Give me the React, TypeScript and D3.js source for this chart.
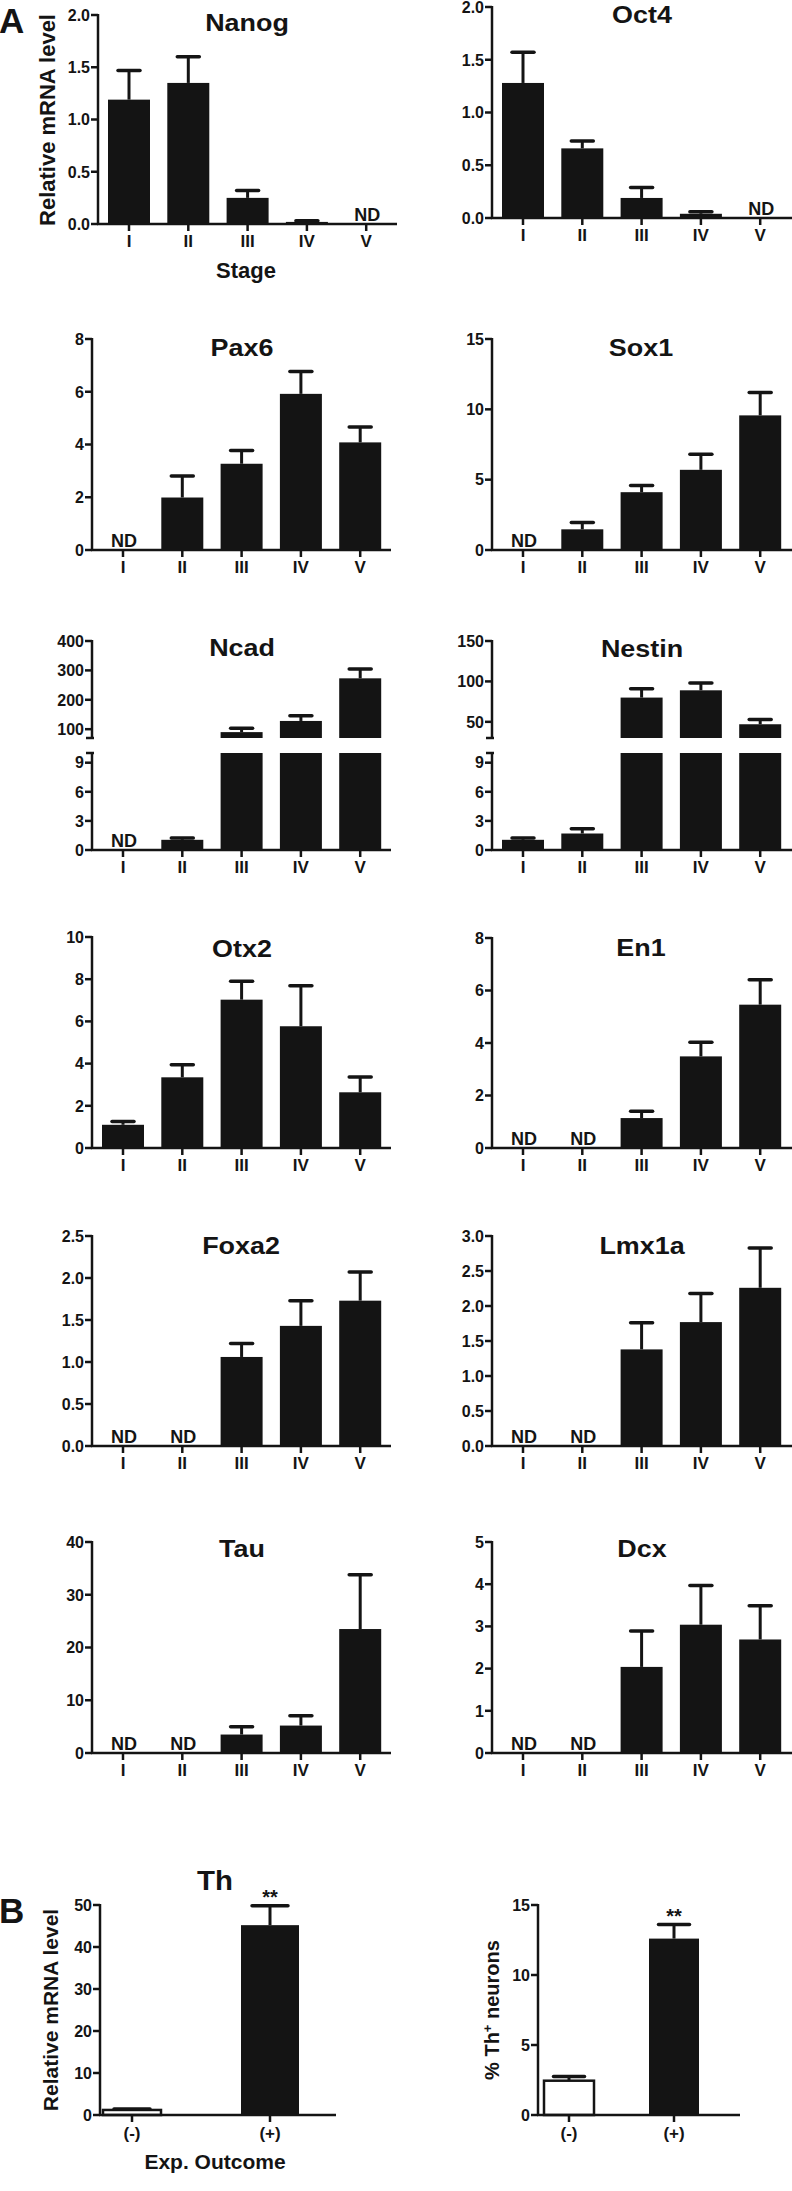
import React from 'react';
import * as d3 from 'd3';

// ---------- DATA ----------
const stages = ['I', 'II', 'III', 'IV', 'V'];

// Panel A: mean and SEM per stage (null = ND, not detected)
const nanogMean = [1.19, 1.35, 0.25, 0.02, null];
const nanogSem = [0.28, 0.25, 0.07, 0.01, null];
const oct4Mean = [1.28, 0.66, 0.19, 0.04, null];
const oct4Sem = [0.29, 0.07, 0.1, 0.02, null];
const pax6Mean = [null, 1.99, 3.27, 5.92, 4.08];
const pax6Sem = [null, 0.82, 0.5, 0.85, 0.58];
const sox1Mean = [null, 1.47, 4.11, 5.7, 9.57];
const sox1Sem = [null, 0.48, 0.47, 1.11, 1.63];
const ncadMean = [null, 1.05, 90, 128, 273];
const ncadSem = [null, 0.2, 13, 18, 32];
const nestinMean = [1.05, 1.7, 80, 89, 47];
const nestinSem = [0.2, 0.5, 11, 9, 6];
const otx2Mean = [1.1, 3.35, 7.03, 5.77, 2.64];
const otx2Sem = [0.16, 0.6, 0.87, 1.92, 0.72];
const en1Mean = [null, null, 1.14, 3.49, 5.46];
const en1Sem = [null, null, 0.26, 0.54, 0.95];
const foxa2Mean = [null, null, 1.06, 1.43, 1.73];
const foxa2Sem = [null, null, 0.16, 0.3, 0.34];
const lmx1aMean = [null, null, 1.38, 1.77, 2.26];
const lmx1aSem = [null, null, 0.38, 0.41, 0.57];
const tauMean = [null, null, 3.5, 5.2, 23.5];
const tauSem = [null, null, 1.5, 1.85, 10.3];
const dcxMean = [null, null, 2.04, 3.04, 2.69];
const dcxSem = [null, null, 0.85, 0.93, 0.8];

// Panel B
const outcomes = ['(-)', '(+)'];
const thMean = [1.2, 45.2];
const thSem = [0.2, 4.6];
const thNeuronMean = [2.45, 12.6];
const thNeuronSem = [0.3, 1.0];
const sigMarks = ['', '**'];

// Tick values
const ticksNanog = [0, 0.5, 1.0, 1.5, 2.0];
const ticksOct4 = [0, 0.5, 1.0, 1.5, 2.0];
const ticksPax6 = [0, 2, 4, 6, 8];
const ticksSox1 = [0, 5, 10, 15];
const ticksBrokenLow = [0, 3, 6, 9];
const ticksNcadHigh = [100, 200, 300, 400];
const ticksNestinHigh = [50, 100, 150];
const ticksOtx2 = [0, 2, 4, 6, 8, 10];
const ticksEn1 = [0, 2, 4, 6, 8];
const ticksFoxa2 = [0, 0.5, 1.0, 1.5, 2.0, 2.5];
const ticksLmx1a = [0, 0.5, 1.0, 1.5, 2.0, 2.5, 3.0];
const ticksTau = [0, 10, 20, 30, 40];
const ticksDcx = [0, 1, 2, 3, 4, 5];
const ticksTh = [0, 10, 20, 30, 40, 50];
const ticksThNeuron = [0, 5, 10, 15];

// ---------- STYLE ----------
const FONT = '"Liberation Sans", Arial, Helvetica, sans-serif';
const INK = '#141414';
const AXW = 2.5;
const ERRW = 3;
const CAPW = 22;
const STEP = 59.3;
const BARW = 42;

type Num = number | null;

function ErrBar({ cx, y1, y2, cap }: { cx: number; y1: number; y2: number; cap: number }) {
  return (
    <g stroke={INK} strokeWidth={ERRW}>
      <line x1={cx} x2={cx} y1={y1} y2={y2} />
      <line x1={cx - cap / 2} x2={cx + cap / 2} y1={y2} y2={y2} strokeWidth={3.5} strokeLinecap="round" />
    </g>
  );
}

function YTicks({ ticks, y, ax, fmt }: { ticks: number[]; y: (v: number) => number; ax: number; fmt: (v: number) => string }) {
  return (
    <g>
      {ticks.map((t) => (
        <g key={t}>
          <line x1={ax - 7} x2={ax} y1={y(t)} y2={y(t)} stroke={INK} strokeWidth={AXW} />
          <text x={ax - 8} y={y(t)} dy="0.36em" textAnchor="end" fontSize={16} fontWeight="bold" fill={INK}>
            {fmt(t)}
          </text>
        </g>
      ))}
    </g>
  );
}

function XAxisStages({ x, ax, ae, y0 }: { x: d3.ScalePoint<string>; ax: number; ae: number; y0: number }) {
  return (
    <g>
      <line x1={ax - 1} x2={ae} y1={y0} y2={y0} stroke={INK} strokeWidth={AXW} />
      {stages.map((s) => (
        <g key={s}>
          <line x1={x(s)!} x2={x(s)!} y1={y0} y2={y0 + 7} stroke={INK} strokeWidth={AXW} />
          <text x={x(s)!} y={y0 + 23} textAnchor="middle" fontSize={17} fontWeight="bold" fill={INK}>
            {s}
          </text>
        </g>
      ))}
    </g>
  );
}

function Title({ text, cx, by, size = 23, sx = 1.17 }: { text: string; cx: number; by: number; size?: number; sx?: number }) {
  return (
    <text transform={`translate(${cx},${by}) scale(${sx},1)`} textAnchor="middle" fontSize={size} fontWeight="bold" fill={INK}>
      {text}
    </text>
  );
}

type PanelProps = {
  title: string;
  mean: Num[];
  sem: Num[];
  ticks: number[];
  fmt: string;
  ax: number;
  ae: number;
  yT: number;
  y0: number;
  tx: number;
  ty: number;
};

function StagePanel({ title, mean, sem, ticks, fmt, ax, ae, yT, y0, tx, ty }: PanelProps) {
  const x = d3.scalePoint<string>().domain(stages).range([ax + 31, ax + 31 + 4 * STEP]);
  const y = d3.scaleLinear().domain([ticks[0], ticks[ticks.length - 1]]).range([y0, yT]);
  const f = d3.format(fmt);
  return (
    <g>
      <Title text={title} cx={tx} by={ty} />
      {stages.map((s, i) => {
        const m = mean[i];
        const cx = x(s)!;
        if (m == null) {
          return (
            <text key={s} x={cx + 1} y={y0 - 3} textAnchor="middle" fontSize={18} fontWeight="bold" fill={INK}>
              ND
            </text>
          );
        }
        const e = sem[i] ?? 0;
        return (
          <g key={s}>
            <rect x={cx - BARW / 2} y={y(m)} width={BARW} height={y0 - y(m)} fill={INK} />
            <ErrBar cx={cx} y1={y(m)} y2={y(m + e)} cap={CAPW} />
          </g>
        );
      })}
      <line x1={ax} x2={ax} y1={y0} y2={yT - 1} stroke={INK} strokeWidth={AXW} />
      <YTicks ticks={ticks} y={y} ax={ax} fmt={f} />
      <XAxisStages x={x} ax={ax} ae={ae} y0={y0} />
    </g>
  );
}

type BrokenProps = {
  title: string;
  mean: Num[];
  sem: Num[];
  highTicks: number[];
  highMin: number;
  ax: number;
  ae: number;
  tx: number;
  ty: number;
};

const BRK_HIGH: [number, number] = [738, 641];
const BRK_LOW: [number, number] = [850, 753];
const BRK_LOW_MAX = 10;

function BrokenPanel({ title, mean, sem, highTicks, highMin, ax, ae, tx, ty }: BrokenProps) {
  const x = d3.scalePoint<string>().domain(stages).range([ax + 31, ax + 31 + 4 * STEP]);
  const yLow = d3.scaleLinear().domain([0, BRK_LOW_MAX]).range(BRK_LOW);
  const yHigh = d3.scaleLinear().domain([highMin, highTicks[highTicks.length - 1]]).range(BRK_HIGH);
  const y0 = BRK_LOW[0];
  const f = d3.format('d');
  return (
    <g>
      <Title text={title} cx={tx} by={ty} />
      {stages.map((s, i) => {
        const m = mean[i];
        const cx = x(s)!;
        if (m == null) {
          return (
            <text key={s} x={cx + 1} y={y0 - 3} textAnchor="middle" fontSize={18} fontWeight="bold" fill={INK}>
              ND
            </text>
          );
        }
        const e = sem[i] ?? 0;
        if (m <= BRK_LOW_MAX) {
          return (
            <g key={s}>
              <rect x={cx - BARW / 2} y={yLow(m)} width={BARW} height={y0 - yLow(m)} fill={INK} />
              <ErrBar cx={cx} y1={yLow(m)} y2={yLow(m + e)} cap={CAPW} />
            </g>
          );
        }
        return (
          <g key={s}>
            <rect x={cx - BARW / 2} y={BRK_LOW[1]} width={BARW} height={y0 - BRK_LOW[1]} fill={INK} />
            <rect x={cx - BARW / 2} y={yHigh(m)} width={BARW} height={BRK_HIGH[0] - yHigh(m)} fill={INK} />
            <ErrBar cx={cx} y1={yHigh(m)} y2={yHigh(m + e)} cap={CAPW} />
          </g>
        );
      })}
      {/* upper axis segment */}
      <line x1={ax} x2={ax} y1={BRK_HIGH[0]} y2={BRK_HIGH[1] - 1} stroke={INK} strokeWidth={AXW} />
      <line x1={ax - 6} x2={ax + 2} y1={BRK_HIGH[0]} y2={BRK_HIGH[0]} stroke={INK} strokeWidth={AXW} />
      <YTicks ticks={highTicks} y={yHigh} ax={ax} fmt={f} />
      {/* lower axis segment */}
      <line x1={ax} x2={ax} y1={y0} y2={BRK_LOW[1]} stroke={INK} strokeWidth={AXW} />
      <line x1={ax - 6} x2={ax + 2} y1={BRK_LOW[1]} y2={BRK_LOW[1]} stroke={INK} strokeWidth={AXW} />
      <YTicks ticks={ticksBrokenLow} y={yLow} ax={ax} fmt={f} />
      <XAxisStages x={x} ax={ax} ae={ae} y0={y0} />
    </g>
  );
}

type BProps = {
  mean: number[];
  sem: number[];
  ticks: number[];
  ax: number;
  ae: number;
  c0: number;
  c1: number;
  bw: number;
  yT: number;
  y0: number;
  fills: string[];
};

function OutcomePanel({ mean, sem, ticks, ax, ae, c0, c1, bw, yT, y0, fills }: BProps) {
  const x = d3.scalePoint<string>().domain(outcomes).range([c0, c1]);
  const y = d3.scaleLinear().domain([ticks[0], ticks[ticks.length - 1]]).range([y0, yT]);
  const f = d3.format('d');
  return (
    <g>
      {outcomes.map((o, i) => {
        const cx = x(o)!;
        const m = mean[i];
        const top = y(m + sem[i]);
        return (
          <g key={o}>
            <rect
              x={cx - bw / 2}
              y={y(m)}
              width={bw}
              height={y0 - y(m)}
              fill={fills[i]}
              stroke={INK}
              strokeWidth={fills[i] === INK ? 0 : 2.5}
            />
            <ErrBar cx={cx} y1={y(m)} y2={top} cap={bw * 0.62} />
            {sigMarks[i] && (
              <text x={cx} y={top - 2} textAnchor="middle" fontSize={20} fontWeight="bold" fill={INK}>
                {sigMarks[i]}
              </text>
            )}
          </g>
        );
      })}
      <line x1={ax} x2={ax} y1={y0} y2={yT - 1} stroke={INK} strokeWidth={AXW} />
      <YTicks ticks={ticks} y={y} ax={ax} fmt={f} />
      <line x1={ax - 1} x2={ae} y1={y0} y2={y0} stroke={INK} strokeWidth={AXW} />
      {outcomes.map((o) => (
        <g key={o}>
          <line x1={x(o)!} x2={x(o)!} y1={y0} y2={y0 + 7} stroke={INK} strokeWidth={AXW} />
          <text x={x(o)!} y={y0 + 24} textAnchor="middle" fontSize={17} fontWeight="bold" fill={INK}>
            {o}
          </text>
        </g>
      ))}
    </g>
  );
}

export default function App() {
  const W = 792;
  const H = 2191;
  const L = 92;
  const R = 492;
  return (
    <svg
      width={W}
      height={H}
      viewBox={`0 0 ${W} ${H}`}
      style={{ position: 'absolute', left: 0, top: 0, background: '#fff' }}
      fontFamily={FONT}
    >
      <rect x={0} y={0} width={W} height={H} fill="#fff" />
      <text x={-1} y={33} fontSize={35} fontWeight="bold" fill={INK}>A</text>

      {/* Row 1 */}
      <StagePanel title="Nanog" mean={nanogMean} sem={nanogSem} ticks={ticksNanog} fmt=".1f"
        ax={98} ae={397} yT={15} y0={224} tx={247} ty={31} />
      <text transform="translate(55,120) rotate(-90)" textAnchor="middle" fontSize={22} fontWeight="bold" fill={INK}>
        Relative mRNA level
      </text>
      <text x={246} y={278} textAnchor="middle" fontSize={22} fontWeight="bold" fill={INK}>Stage</text>
      <StagePanel title="Oct4" mean={oct4Mean} sem={oct4Sem} ticks={ticksOct4} fmt=".1f"
        ax={R} ae={W} yT={7} y0={218} tx={642} ty={23} />

      {/* Row 2 */}
      <StagePanel title="Pax6" mean={pax6Mean} sem={pax6Sem} ticks={ticksPax6} fmt="d"
        ax={L} ae={391} yT={339} y0={550} tx={242} ty={356} />
      <StagePanel title="Sox1" mean={sox1Mean} sem={sox1Sem} ticks={ticksSox1} fmt="d"
        ax={R} ae={W} yT={339} y0={550} tx={641} ty={356} />

      {/* Row 3 */}
      <BrokenPanel title="Ncad" mean={ncadMean} sem={ncadSem} highTicks={ticksNcadHigh} highMin={70}
        ax={L} ae={391} tx={242} ty={656} />
      <BrokenPanel title="Nestin" mean={nestinMean} sem={nestinSem} highTicks={ticksNestinHigh} highMin={30}
        ax={R} ae={W} tx={642} ty={657} />

      {/* Row 4 */}
      <StagePanel title="Otx2" mean={otx2Mean} sem={otx2Sem} ticks={ticksOtx2} fmt="d"
        ax={L} ae={391} yT={937} y0={1148} tx={242} ty={957} />
      <StagePanel title="En1" mean={en1Mean} sem={en1Sem} ticks={ticksEn1} fmt="d"
        ax={R} ae={W} yT={938} y0={1148} tx={641} ty={956} />

      {/* Row 5 */}
      <StagePanel title="Foxa2" mean={foxa2Mean} sem={foxa2Sem} ticks={ticksFoxa2} fmt=".1f"
        ax={L} ae={391} yT={1236} y0={1446} tx={241} ty={1254} />
      <StagePanel title="Lmx1a" mean={lmx1aMean} sem={lmx1aSem} ticks={ticksLmx1a} fmt=".1f"
        ax={R} ae={W} yT={1236} y0={1446} tx={642} ty={1254} />

      {/* Row 6 */}
      <StagePanel title="Tau" mean={tauMean} sem={tauSem} ticks={ticksTau} fmt="d"
        ax={L} ae={391} yT={1542} y0={1753} tx={242} ty={1557} />
      <StagePanel title="Dcx" mean={dcxMean} sem={dcxSem} ticks={ticksDcx} fmt="d"
        ax={R} ae={W} yT={1542} y0={1753} tx={642} ty={1557} />

      {/* Panel B */}
      <text x={-1} y={1923} fontSize={35} fontWeight="bold" fill={INK}>B</text>
      <Title text="Th" cx={215} by={1890} size={28} sx={1.05} />
      <text transform="translate(58,2010) rotate(-90)" textAnchor="middle" fontSize={21} fontWeight="bold" fill={INK}>
        Relative mRNA level
      </text>
      <OutcomePanel mean={thMean} sem={thSem} ticks={ticksTh} ax={100} ae={336} c0={132} c1={270} bw={58}
        yT={1905} y0={2115} fills={['#fff', INK]} />
      <text x={215} y={2169} textAnchor="middle" fontSize={21} fontWeight="bold" fill={INK}>Exp. Outcome</text>

      <text transform="translate(499,2010) rotate(-90)" textAnchor="middle" fontSize={20} fontWeight="bold" fill={INK}>
        % Th<tspan dy="-7" fontSize={13}>+</tspan><tspan dy="7"> neurons</tspan>
      </text>
      <OutcomePanel mean={thNeuronMean} sem={thNeuronSem} ticks={ticksThNeuron} ax={538} ae={740} c0={569} c1={674} bw={50}
        yT={1905} y0={2115} fills={['#fff', INK]} />
    </svg>
  );
}
